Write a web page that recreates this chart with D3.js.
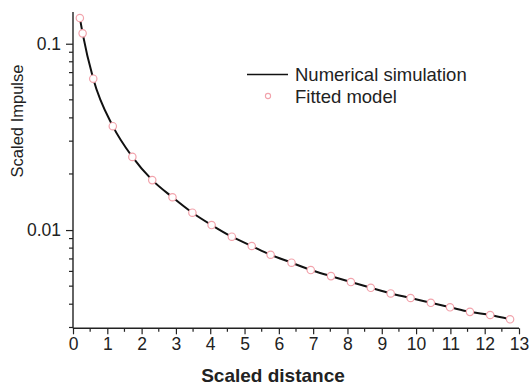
<!DOCTYPE html>
<html>
<head>
<meta charset="utf-8">
<script src="https://cdn.jsdelivr.net/npm/d3@7"></script>
<style>
  html, body { margin: 0; padding: 0; background: #fff; }
  svg { display: block; }
  text { font-family: "Liberation Sans", Arial, sans-serif; fill: #222; }
</style>
</head>
<body>
<svg id="chart" width="532" height="387"></svg>
<script>
// ---- data ----
const distance = [0.20, 0.28, 0.59, 1.16, 1.73, 2.31, 2.90, 3.48, 4.04, 4.63, 5.21, 5.76,
                  6.37, 6.93, 7.52, 8.10, 8.68, 9.26, 9.84, 10.43, 10.99, 11.57, 12.16, 12.74];
const simulation = [0.1374, 0.1137, 0.0649, 0.0361, 0.0247, 0.01854, 0.0150, 0.01239, 0.01064,
                    0.00921, 0.00821, 0.00737, 0.00668, 0.00610, 0.00566, 0.00526, 0.00490,
                    0.00457, 0.00432, 0.00407, 0.00385, 0.00364, 0.00350, 0.00332];
const fitted = [0.1374, 0.1137, 0.0649, 0.0361, 0.0247, 0.01854, 0.0150, 0.01239, 0.01064,
                0.00921, 0.00821, 0.00737, 0.00668, 0.00610, 0.00566, 0.00526, 0.00490,
                0.00457, 0.00432, 0.00407, 0.00385, 0.00364, 0.00350, 0.00332];
const xTicks = [0,1,2,3,4,5,6,7,8,9,10,11,12,13];
const yTicks = [0.01, 0.1];
const yTickLabels = ["0.01", "0.1"];
const seriesNames = ["Numerical simulation", "Fitted model"];

// ---- layout ----
const svg = d3.select("#chart");
const x = d3.scaleLinear().domain([0, 13]).range([73, 519]);
const y = d3.scaleLog().domain([0.00297, 0.148]).range([328.3, 12]);

const axisColor = "#222";
const pink = "#f2a3ac";

// x axis
const xMinor = d3.range(0.5, 13, 1);
const gx = svg.append("g").attr("transform", `translate(0,${y.range()[0]})`);
gx.call(d3.axisBottom(x).tickValues(xTicks).tickSize(6).tickPadding(3).tickFormat(d3.format("d")));
gx.selectAll(".tick line").attr("stroke", axisColor).attr("stroke-width", 1.2);
gx.select(".domain").attr("stroke", axisColor).attr("stroke-width", 1.4).attr("d", `M${x.range()[0]},0H${x.range()[1]}`);
gx.selectAll(".tick text").style("font-size", "17.5px").attr("fill", "#222");
gx.selectAll(".minor").data(xMinor).enter().append("line")
  .attr("x1", d => x(d)).attr("x2", d => x(d)).attr("y1", 0).attr("y2", 3.5)
  .attr("stroke", axisColor).attr("stroke-width", 1.2);

// y axis
const yMinor = [];
[0.001, 0.01, 0.1].forEach(b => { for (let k = 2; k <= 9; k++) { const v = b * k; if (v >= y.domain()[0] && v <= y.domain()[1]) yMinor.push(v); } });
const gy = svg.append("g").attr("transform", `translate(${x.range()[0]},0)`);
gy.call(d3.axisLeft(y).tickValues(yTicks).tickSize(7).tickPadding(5).tickFormat((d, i) => yTickLabels[i]));
gy.selectAll(".tick line").attr("stroke", axisColor).attr("stroke-width", 1.2);
gy.select(".domain").attr("stroke", axisColor).attr("stroke-width", 1.4).attr("d", `M0,${y.range()[0]}V${y.range()[1]}`);
gy.selectAll(".tick text").style("font-size", "17.5px").attr("fill", "#222");
gy.selectAll(".minor").data(yMinor).enter().append("line")
  .attr("x1", 0).attr("x2", -4).attr("y1", d => y(d)).attr("y2", d => y(d))
  .attr("stroke", axisColor).attr("stroke-width", 1.2);

// axis titles
svg.append("text").attr("x", 273).attr("y", 382).attr("text-anchor", "middle")
  .style("font-size", "19px").style("font-weight", "bold").text("Scaled distance");
svg.append("text").attr("transform", "translate(23,121) rotate(-90)").attr("text-anchor", "middle")
  .style("font-size", "16.5px").text("Scaled Impulse");

// simulation line
const lineData = distance.map((d, i) => [d, simulation[i]]);
svg.append("path").datum(lineData)
  .attr("fill", "none").attr("stroke", "#111").attr("stroke-width", 2)
  .attr("d", d3.line().x(d => x(d[0])).y(d => y(d[1])).curve(d3.curveMonotoneX));

// fitted markers
svg.append("g").selectAll("circle").data(distance.map((d, i) => [d, fitted[i]])).enter()
  .append("circle")
  .attr("cx", d => x(d[0])).attr("cy", d => y(d[1])).attr("r", 3.7)
  .attr("fill", "#fff").attr("stroke", pink).attr("stroke-width", 1.2);

// legend
const lg = svg.append("g");
lg.append("line").attr("x1", 247).attr("x2", 288).attr("y1", 74.5).attr("y2", 74.5)
  .attr("stroke", "#111").attr("stroke-width", 1.6);
lg.append("text").attr("x", 295).attr("y", 80.5).style("font-size", "18.5px").text(seriesNames[0]);
lg.append("circle").attr("cx", 268).attr("cy", 96).attr("r", 2.6)
  .attr("fill", "#fff").attr("stroke", pink).attr("stroke-width", 1.1);
lg.append("text").attr("x", 295).attr("y", 103).style("font-size", "18.5px").text(seriesNames[1]);
</script>
</body>
</html>
